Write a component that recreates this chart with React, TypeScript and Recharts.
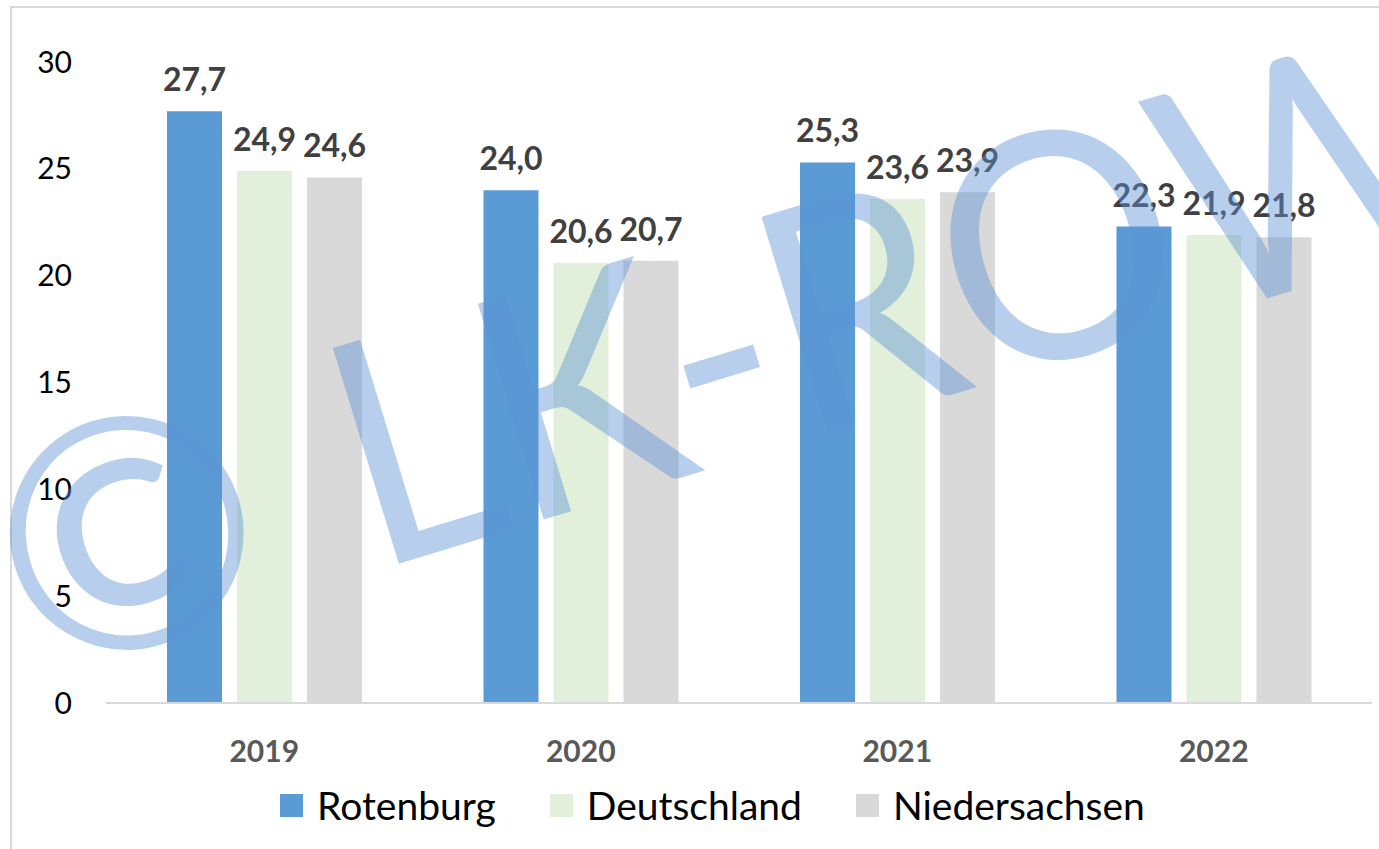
import { BarChart, Bar, XAxis, YAxis, LabelList, Legend } from 'recharts';

const years = ['2019', '2020', '2021', '2022'];
const rotenburg = [27.7, 24.0, 25.3, 22.3];
const deutschland = [24.9, 20.6, 23.6, 21.9];
const niedersachsen = [24.6, 20.7, 23.9, 21.8];
const yTicks = [0, 5, 10, 15, 20, 25, 30];

const series = [
  { key: 'rotenburg', name: 'Rotenburg', color: '#5B9BD5' },
  { key: 'deutschland', name: 'Deutschland', color: '#E2EFDA' },
  { key: 'niedersachsen', name: 'Niedersachsen', color: '#D9D9D9' },
];

const data = years.map((year, i) => ({
  year,
  rotenburg: rotenburg[i],
  deutschland: deutschland[i],
  niedersachsen: niedersachsen[i],
}));

const font = 'Lato, "Open Sans", sans-serif';
const fmt = (v: number) => v.toFixed(1).replace('.', ',');
const order = (name: string) => series.findIndex((s) => s.name === name);

function LegendContent(props: any) {
  const items = [...(props.payload || [])].sort((a: any, b: any) => order(a.value) - order(b.value));
  return (
    <div style={{ display: 'flex', alignItems: 'center', height: 50, paddingLeft: 280, fontFamily: font, fontSize: 39, color: '#000' }}>
      {items.map((it: any, i: number) => (
        <div key={it.value} style={{ display: 'flex', alignItems: 'center', marginRight: i < items.length - 1 ? 54 : 0 }}>
          <span style={{ display: 'inline-block', width: 23, height: 23, background: it.color, marginRight: 14 }} />
          <span>{it.value}</span>
        </div>
      ))}
    </div>
  );
}

export default function App() {
  return (
    <div style={{ position: 'absolute', left: 0, top: 0, width: 1379, height: 849, overflow: 'hidden', background: '#fff', fontFamily: font }}>
      <div style={{ position: 'absolute', left: 10, top: 6, width: 1400, height: 900, borderTop: '2px solid #D9D9D9', borderLeft: '2px solid #D9D9D9' }} />
      <div style={{ position: 'absolute', left: 0, top: 0 }}>
        <BarChart
          width={1379}
          height={849}
          data={data}
          margin={{ top: 62, right: 7, left: 0, bottom: 19 }}
          barSize={55}
          barGap={15}
        >
          <XAxis
            dataKey="year"
            height={77}
            axisLine={{ stroke: '#D9D9D9', strokeWidth: 2 }}
            tickLine={false}
            tickSize={6}
            tickMargin={32}
            tick={{ fontSize: 30, fontWeight: 700, fill: '#595959', fontFamily: font }}
          />
          <YAxis
            width={106}
            domain={[0, 30]}
            ticks={yTicks}
            axisLine={false}
            tickLine={false}
            tickSize={6}
            tickMargin={28}
            tick={{ fontSize: 30, fill: '#000', fontFamily: font }}
          />
          <Legend verticalAlign="bottom" height={50} content={<LegendContent />} />
          {series.map((s) => (
            <Bar key={s.key} dataKey={s.key} name={s.name} fill={s.color} isAnimationActive={false}>
              <LabelList
                dataKey={s.key}
                position="top"
                offset={20}
                formatter={(v: any) => fmt(Number(v))}
                style={{ fontSize: 32, fontWeight: 700, fill: '#404040', fontFamily: font }}
              />
            </Bar>
          ))}
        </BarChart>
      </div>
      <svg width={1379} height={849} style={{ position: 'absolute', left: 0, top: 0, pointerEvents: 'none' }}>
        <g fill="rgb(91,146,214)" fillOpacity={0.44} fontFamily={font}>
          <text x={124} y={524} textAnchor="middle" dominantBaseline="central" fontSize={320} transform="rotate(-17 124 524)">
            ©
          </text>
          <text x={372} y={565} fontSize={315} textLength={1170} lengthAdjust="spacingAndGlyphs" transform="rotate(-17 395 565)">
            LK-ROW
          </text>
        </g>
      </svg>
    </div>
  );
}
